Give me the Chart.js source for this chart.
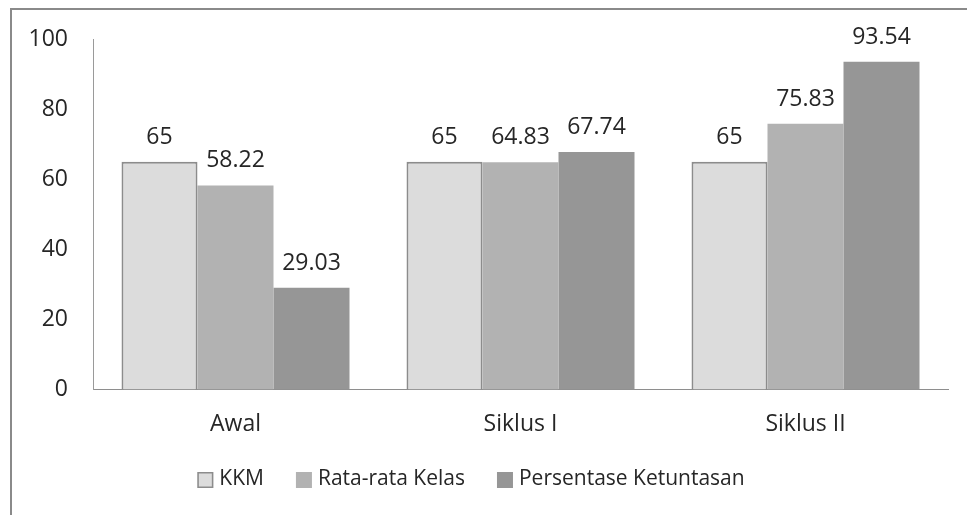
<!DOCTYPE html>
<html>
<head>
<meta charset="utf-8">
<script src="https://cdn.jsdelivr.net/npm/chart.js@4"></script>
<style>
  html, body { margin: 0; padding: 0; background: #fff; }
  #wrap { width: 967px; height: 515px; }
</style>
</head>
<body>
<div id="wrap"><canvas id="nilaiChart"></canvas></div>
<script>
const categories = ['Awal', 'Siklus I', 'Siklus II'];
const kkm = [65, 65, 65];
const rataRata = [58.22, 64.83, 75.83];
const persentase = [29.03, 67.74, 93.54];
const yTicks = [0, 20, 40, 60, 80, 100];

const textColor = '#262626';
const fontFamily = '"Open Sans", "Noto Sans", sans-serif';

// frame around the whole chart (runs off the right and bottom edge)
const framePlugin = {
    id: 'frame',
    beforeDraw(chart) {
        const c = chart.ctx;
        c.save();
        c.strokeStyle = '#8a8a8a';
        c.lineWidth = 2;
        c.strokeRect(11, 9, chart.width + 20, chart.height + 20);
        c.restore();
    }
};

// value labels above each bar
const valueLabels = {
    id: 'valueLabels',
    afterDatasetsDraw(chart) {
        const c = chart.ctx;
        c.save();
        c.font = '23px ' + fontFamily;
        c.fillStyle = textColor;
        c.textAlign = 'center';
        c.textBaseline = 'alphabetic';
        chart.data.datasets.forEach((ds, i) => {
            chart.getDatasetMeta(i).data.forEach((bar, j) => {
                c.fillText(String(ds.data[j]), bar.x, bar.y - 18);
            });
        });
        c.restore();
    }
};

// legend row under the axis, small gap between box and text
const legendRow = {
    id: 'legendRow',
    afterDraw(chart) {
        const c = chart.ctx;
        const box = 16, gap = 6, spacing = 32, centerX = 471, centerY = 480;
        c.save();
        c.font = '21px ' + fontFamily;
        c.textBaseline = 'middle';
        const items = chart.data.datasets.map(ds => ({
            ds: ds,
            w: box + gap + c.measureText(ds.label).width
        }));
        const total = items.reduce((s, it) => s + it.w, 0) + spacing * (items.length - 1);
        let x = centerX - total / 2;
        items.forEach(it => {
            c.fillStyle = it.ds.backgroundColor;
            c.fillRect(x, centerY - box / 2, box, box);
            if (it.ds.borderWidth) {
                c.strokeStyle = it.ds.borderColor;
                c.lineWidth = 1.5;
                c.strokeRect(x + 0.75, centerY - box / 2 + 0.75, box - 1.5, box - 1.5);
            }
            c.fillStyle = textColor;
            c.fillText(it.ds.label, x + box + gap, centerY - 1);
            x += it.w + spacing;
        });
        c.restore();
    }
};

const ctx = document.getElementById('nilaiChart').getContext('2d');
const nilaiChart = new Chart(ctx, {
    type: 'bar',
    data: {
        labels: categories,
        datasets: [{
            label: 'KKM',
            data: kkm,
            backgroundColor: '#dcdcdc',
            borderColor: '#8c8c8c',
            borderWidth: 2
        }, {
            label: 'Rata-rata Kelas',
            data: rataRata,
            backgroundColor: '#b2b2b2',
            borderWidth: 0
        }, {
            label: 'Persentase Ketuntasan',
            data: persentase,
            backgroundColor: '#969696',
            borderWidth: 0
        }]
    },
    options: {
        responsive: true,
        maintainAspectRatio: false,
        animation: false,
        datasets: {
            bar: { categoryPercentage: 0.8, barPercentage: 1 }
        },
        layout: {
            padding: { left: 10, right: 19, top: 39, bottom: 56 }
        },
        plugins: {
            tooltip: { enabled: false },
            legend: { display: false }
        },
        scales: {
            x: {
                grid: { display: false, drawTicks: false },
                border: { display: true, color: '#8e8e8e', width: 1 },
                ticks: {
                    padding: 21,
                    color: textColor,
                    font: { family: fontFamily, size: 23 }
                }
            },
            y: {
                min: 0,
                max: 100,
                afterFit(scale) { scale.width = 83; },
                afterBuildTicks(scale) { scale.ticks = yTicks.map(v => ({ value: v })); },
                grid: { display: false, drawTicks: false },
                border: { display: true, color: '#9a9a9a', width: 1 },
                ticks: {
                    padding: 25,
                    color: textColor,
                    font: { family: fontFamily, size: 23 }
                }
            }
        }
    },
    plugins: [framePlugin, valueLabels, legendRow]
});
</script>
</body>
</html>
